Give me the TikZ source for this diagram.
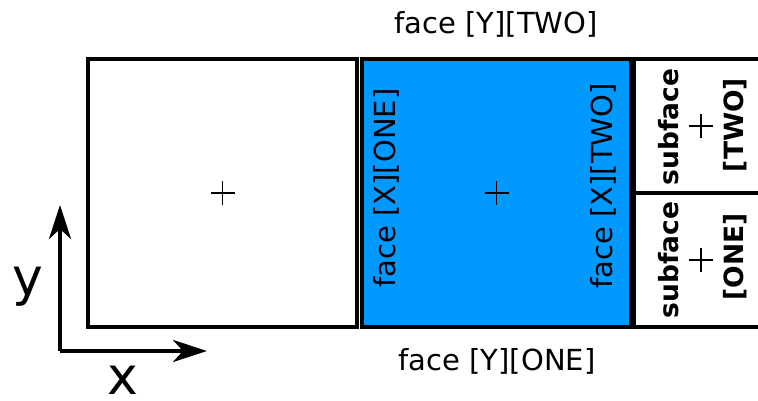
\documentclass[tikz,border=0pt]{standalone}
\usepackage{fontspec}
\setmainfont{DejaVu Sans}
\usetikzlibrary{arrows.meta,positioning,calc}
\definecolor{faceblue}{RGB}{0,153,255}
\tikzset{
    cell/.style={draw,line width=4pt,minimum width=269pt,minimum height=268pt,inner sep=0pt},
    subcell/.style={draw,line width=4pt,minimum width=134pt,minimum height=134pt,inner sep=0pt},
    facelabel/.style={font=\fontsize{29}{34}\selectfont,inner sep=0pt},
    sublabel/.style={font=\fontsize{26.5}{32}\selectfont\bfseries,inner sep=0pt,rotate=90},
    axislabel/.style={font=\fontsize{52}{60}\selectfont,inner sep=0pt},
    arrow/.style={-{Stealth[length=34pt,width=22pt,inset=10pt]},line width=4pt}
}
\begin{document}
\begin{tikzpicture}[x=1pt,y=1pt]
    \clip (0,0) rectangle (758,401);
    % cells
    \node[cell] (left) at (222.5,208) {};
    \node[cell,fill=faceblue] (blue) at (496.5,208) {};
    \node[subcell] (subtwo) at (701,275) {};
    \node[subcell] (subone) at (701,141) {};
    \foreach \c in {left,blue,subtwo,subone}
        \draw[line width=1.2pt] (\c.center) +(-12,0) -- +(12,0) +(0,-12) -- +(0,12);
    % face labels
    \node[facelabel] (ytwo) at (496,376.5) {face [Y][TWO]};
    \node[facelabel] (yone) at (497,39.5) {face [Y][ONE]};
    \node[facelabel,rotate=90] (xone) at (386,213) {face [X][ONE]};
    \node[facelabel,rotate=90] (xtwo) at (603,215) {face [X][TWO]};
    \node[sublabel] (subtwoa) at (669,274) {subface};
    \node[sublabel] (subtwob) at (735,276) {[TWO]};
    \node[sublabel] (subonea) at (669,141) {subface};
    \node[sublabel] (suboneb) at (735,144) {[ONE]};
    % axes
    \coordinate (origin) at (60,50);
    \coordinate (ytip) at (60,196);
    \coordinate (xtip) at (207,50);
    \draw[arrow] (origin)--(ytip);
    \draw[arrow] (origin)--(xtip);
    \node[axislabel] (ylab) at (28,114.5) {y};
    \node[axislabel] (xlab) at (123,21) {x};
\end{tikzpicture}
\end{document}
